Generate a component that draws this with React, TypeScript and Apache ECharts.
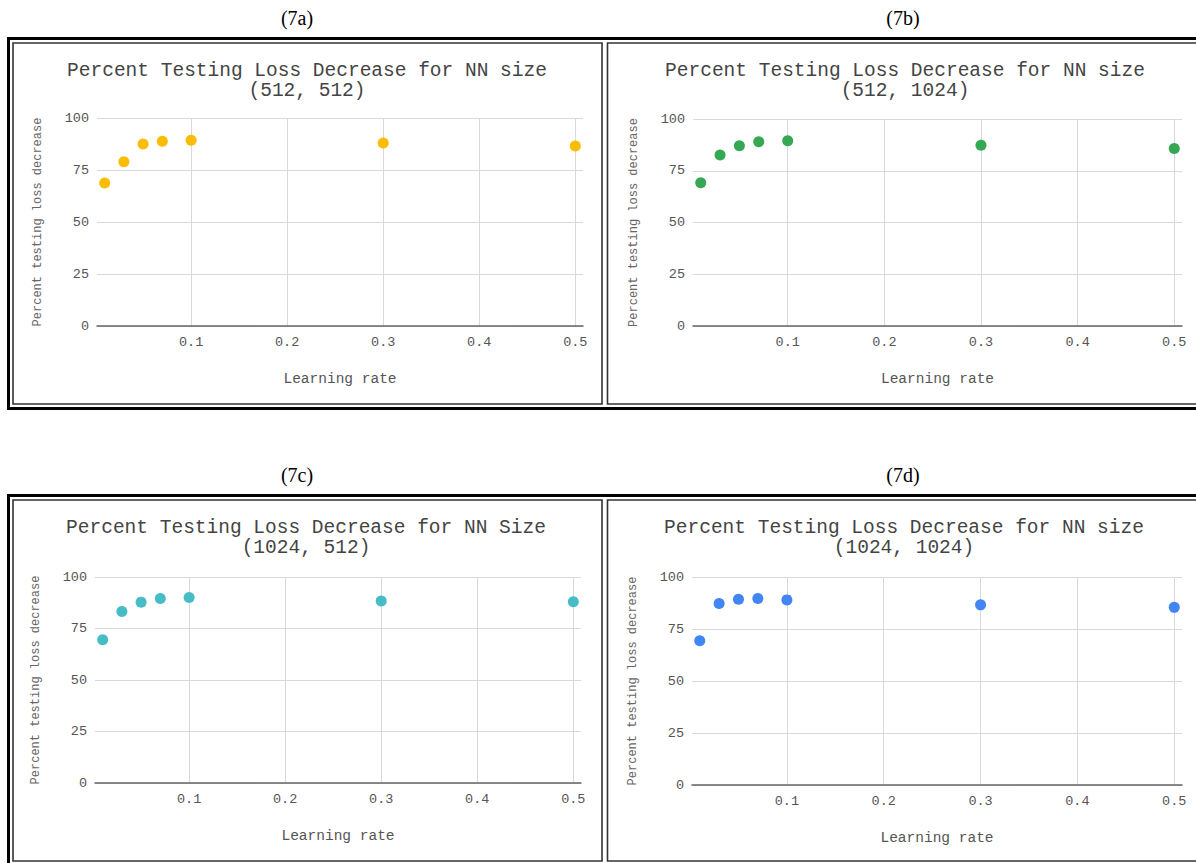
import React, { useEffect, useRef } from 'react';
import * as echarts from 'echarts';

// ---- data ----
const learningRates = [0.01, 0.03, 0.05, 0.07, 0.1, 0.3, 0.5];
const lossA = [68.7, 79.0, 87.5, 88.8, 89.3, 88.0, 86.5];
const lossB = [69.2, 82.6, 87.1, 89.0, 89.5, 87.3, 85.8];
const lossC = [69.5, 83.2, 87.8, 89.6, 90.0, 88.3, 88.0];
const lossD = [69.3, 87.3, 89.3, 89.7, 89.0, 86.6, 85.4];
const xTicks = [0.1, 0.2, 0.3, 0.4, 0.5];
const yMin = 0;
const yMax = 100;
const yStep = 25;
const panelLabels = ['(7a)', '(7b)', '(7c)', '(7d)'];
const titles = [
  'Percent Testing Loss Decrease for NN size\n(512, 512)',
  'Percent Testing Loss Decrease for NN size\n(512, 1024)',
  'Percent Testing Loss Decrease for NN Size\n(1024, 512)',
  'Percent Testing Loss Decrease for NN size\n(1024, 1024)',
];
const xName = 'Learning rate';
const yName = 'Percent testing loss decrease';
const seriesData = [lossA, lossB, lossC, lossD];
const colors = ['#fbbc04', '#34a853', '#46bdc6', '#4285f4'];

// ---- layout ----
const W = 1196;
const H = 863;
const MONO = '"Liberation Mono", "DejaVu Sans Mono", monospace';
const SERIF = '"Liberation Serif", "DejaVu Serif", serif';

const panels = [
  { grid: { left: 97, top: 118, width: 486, height: 208 }, titleX: 307, titleY: 61, labelX: 297, labelY: 18 },
  { grid: { left: 693, top: 119, width: 489, height: 207 }, titleX: 905, titleY: 61, labelX: 903, labelY: 18 },
  { grid: { left: 95, top: 577, width: 486, height: 206 }, titleX: 306, titleY: 518, labelX: 297, labelY: 475 },
  { grid: { left: 692, top: 577, width: 490, height: 208 }, titleX: 904, titleY: 518, labelX: 903, labelY: 475 },
];

function buildOption() {
  const grids = panels.map((p) => ({ ...p.grid, containLabel: false }));
  const xAxes = panels.map((p, i) => ({
    type: 'value',
    gridIndex: i,
    min: 0.002,
    max: 0.508,
    name: xName,
    nameLocation: 'middle',
    nameGap: 45,
    nameTextStyle: { fontFamily: MONO, fontSize: 14.5, color: '#555' },
    axisLine: { show: true, onZero: true, lineStyle: { color: '#666', width: 1.5 } },
    axisTick: { show: false, customValues: xTicks },
    axisLabel: {
      customValues: xTicks,
      fontFamily: MONO,
      fontSize: 13.5,
      color: '#555',
      margin: 9,
      formatter: (v: number) => String(Math.round(v * 10) / 10),
    },
    splitLine: { show: true, lineStyle: { color: '#d9d9d9', width: 1 } },
  }));
  const yAxes = panels.map((p, i) => ({
    type: 'value',
    gridIndex: i,
    min: yMin,
    max: yMax,
    interval: yStep,
    name: yName,
    nameLocation: 'middle',
    nameGap: 53,
    nameTextStyle: { fontFamily: MONO, fontSize: 12, color: '#666' },
    axisLine: { show: false },
    axisTick: { show: false },
    axisLabel: { fontFamily: MONO, fontSize: 13.5, color: '#555', margin: 8 },
    splitLine: { show: true, lineStyle: { color: '#d9d9d9', width: 1 } },
  }));
  const series = seriesData.map((vals, i) => ({
    type: 'scatter',
    xAxisIndex: i,
    yAxisIndex: i,
    symbol: 'circle',
    symbolSize: 11,
    itemStyle: { color: colors[i], opacity: 1 },
    data: learningRates.map((x, j) => [x, vals[j]]),
    z: 5,
  }));
  const title = panels.map((p, i) => ({
    text: titles[i],
    left: p.titleX,
    top: p.titleY,
    textAlign: 'center',
    padding: 0,
    textStyle: { fontFamily: MONO, fontSize: 19.5, fontWeight: 'normal', color: '#444', lineHeight: 20 },
  }));

  const frame = (x1: number, y1: number, x2: number, y2: number, lw: number, color: string) => ({
    type: 'rect',
    shape: { x: x1, y: y1, width: x2 - x1, height: y2 - y1 },
    style: { fill: 'none', stroke: color, lineWidth: lw },
    silent: true,
  });
  const graphic: any[] = [];
  [0, 457].forEach((dy) => {
    graphic.push(frame(8.5, 38.5 + dy, 1210, 408.5 + dy, 3, '#000'));
    graphic.push(frame(13, 43 + dy, 602, 404 + dy, 1.6, '#333'));
    graphic.push(frame(607.5, 43 + dy, 1210, 404 + dy, 1.6, '#333'));
  });
  panels.forEach((p, i) => {
    graphic.push({
      type: 'text',
      x: p.labelX,
      y: p.labelY,
      style: {
        text: panelLabels[i],
        fontFamily: SERIF,
        fontSize: 20,
        fill: '#000',
        align: 'center',
        verticalAlign: 'middle',
      },
      silent: true,
    });
  });

  return {
    animation: false,
    backgroundColor: '#fff',
    title,
    grid: grids,
    xAxis: xAxes,
    yAxis: yAxes,
    series,
    graphic,
  };
}

export default function App() {
  const ref = useRef<HTMLDivElement>(null);
  useEffect(() => {
    if (!ref.current) return;
    const chart = echarts.init(ref.current, null, { renderer: 'svg', width: W, height: H });
    chart.setOption(buildOption() as any);
    return () => chart.dispose();
  }, []);
  return (
    <div
      ref={ref}
      style={{ position: 'absolute', left: 0, top: 0, width: W, height: H, background: '#fff' }}
    />
  );
}
